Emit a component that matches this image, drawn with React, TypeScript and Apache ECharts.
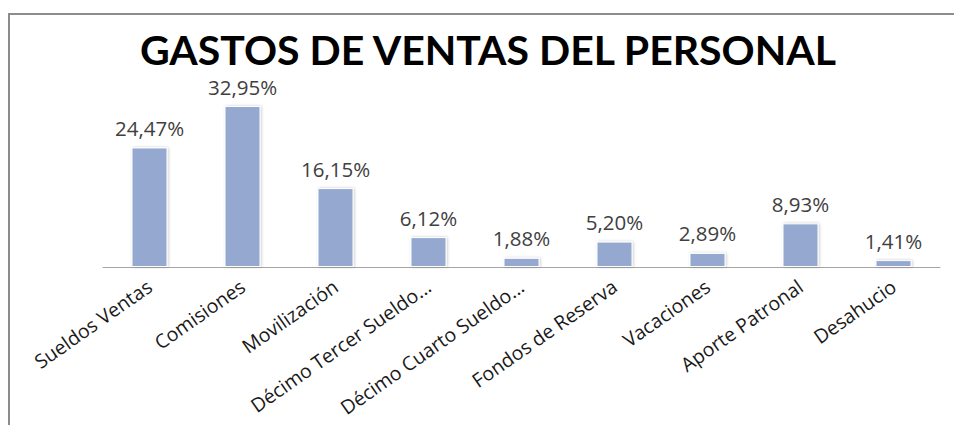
import React, { useEffect, useRef } from "react";
import * as echarts from "echarts";

const TITLE = "GASTOS DE VENTAS DEL PERSONAL";
const categories = [
  "Sueldos Ventas",
  "Comisiones",
  "Movilización",
  "Décimo Tercer Sueldo...",
  "Décimo Cuarto Sueldo...",
  "Fondos de Reserva",
  "Vacaciones",
  "Aporte Patronal",
  "Desahucio",
];
const percentages = [24.47, 32.95, 16.15, 6.12, 1.88, 5.2, 2.89, 8.93, 1.41];

export default function App() {
  const ref = useRef<HTMLDivElement>(null);
  useEffect(() => {
    document.body.style.margin = "0";
    document.body.style.overflow = "hidden";
    if (!ref.current) return;
    const chart = echarts.init(ref.current, null, { renderer: "svg" });
    chart.setOption({
      animation: false,
      backgroundColor: "#ffffff",
      title: {
        text: TITLE,
        left: 488,
        top: 32,
        padding: 0,
        textAlign: "center",
        textStyle: {
          fontFamily: "Lato",
          fontWeight: "bold",
          fontSize: 41,
          lineHeight: 34,
          color: "#000000",
        },
      },
      graphic: [
        {
          type: "rect",
          shape: { x: 8, y: 13, width: 2, height: 412 },
          style: { fill: "#8c8c8c" },
          silent: true,
        },
        {
          type: "rect",
          shape: { x: 8, y: 13, width: 946, height: 2 },
          style: { fill: "#8c8c8c" },
          silent: true,
        },
      ],
      grid: { left: 103, right: 14, top: 96, bottom: 158, containLabel: false },
      xAxis: {
        type: "category",
        data: categories,
        axisLine: { show: true, lineStyle: { color: "#a6a6a6", width: 1 } },
        axisTick: { show: false },
        axisLabel: {
          interval: 0,
          rotate: 35,
          margin: 17,
          fontFamily: "Open Sans",
          fontSize: 19.5,
          color: "#1a1a1a",
        },
      },
      yAxis: {
        type: "value",
        min: 0,
        max: 35,
        show: false,
        splitLine: { show: false },
      },
      series: [
        {
          type: "bar",
          data: percentages,
          barWidth: 36,
          itemStyle: {
            color: "#94a8d0",
            borderColor: "#ffffff",
            borderWidth: 1,
            shadowColor: "rgba(0,0,0,0.22)",
            shadowBlur: 3,
            shadowOffsetX: 1,
          },
          label: {
            show: true,
            position: "top",
            distance: 9,
            fontFamily: "Open Sans",
            fontSize: 20.5,
            color: "#404040",
            formatter: (p: any) => p.value.toFixed(2).replace(".", ",") + "%",
          },
        },
      ],
    });
    return () => chart.dispose();
  }, []);
  return <div ref={ref} style={{ width: 954, height: 425 }} />;
}
